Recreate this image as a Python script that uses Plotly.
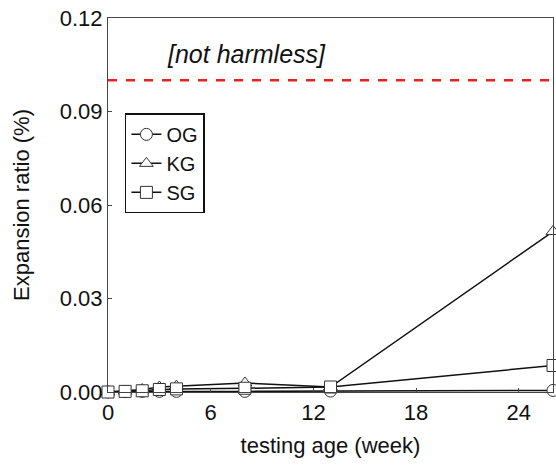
import plotly.graph_objects as go

weeks = [0, 1, 2, 3, 4, 8, 13, 26]
og = [0.0, 0.0001, 0.0002, 0.0002, 0.0002, 0.0002, 0.0003, 0.0005]
kg = [0.0, 0.0003, 0.0008, 0.0016, 0.0019, 0.0029, 0.0016, 0.0515]
sg = [0.0, 0.0002, 0.0004, 0.0008, 0.0010, 0.0012, 0.0016, 0.0085]
limit_x = [0, 26]
limit_y = [0.1, 0.1]
x_ticks = [0, 6, 12, 18, 24]
y_ticks = [0.0, 0.03, 0.06, 0.09, 0.12]

FONT = "Liberation Sans, Arial, sans-serif"
FS = 22

fig = go.Figure()
fig.add_trace(go.Scatter(x=limit_x, y=limit_y, mode="lines",
                         line=dict(color="#e8201e", width=2.5, dash="dash"),
                         showlegend=False, hoverinfo="skip"))
series = [("OG", og, "circle"), ("KG", kg, "triangle-up"), ("SG", sg, "square")]
for i, (name, vals, sym) in enumerate(series):
    fig.add_trace(go.Scatter(
        x=weeks, y=vals, mode="lines+markers", name=name,
        legendgroup=name,
        line=dict(color="#111111", width=1.5),
        marker=dict(symbol=sym, size=12, color="white",
                    line=dict(color="#333333", width=1)),
        cliponaxis=False))

fig.add_annotation(x=0.128, y=0.905, xref="paper", yref="paper",
                   text="<i>[not harmless]</i>", showarrow=False,
                   xanchor="left", yanchor="middle",
                   font=dict(family=FONT, size=25, color="#111111"))

axis_common = dict(showgrid=False, zeroline=False, showline=True,
                   linecolor="#444444", linewidth=1.2, mirror=True,
                   ticks="inside", ticklen=4, tickcolor="#444444",
                   tickfont=dict(family=FONT, size=FS, color="#111111"))

fig.update_xaxes(range=[0, 26], tickvals=x_ticks,
                 title=dict(text="testing age (week)", standoff=14,
                            font=dict(family=FONT, size=FS, color="#111111")),
                 **axis_common)
fig.update_yaxes(range=[0, 0.12], tickvals=y_ticks, tickformat=".2f",
                 title=dict(text="Expansion ratio (%)", standoff=23,
                            font=dict(family=FONT, size=FS, color="#111111")),
                 **axis_common)

fig.update_layout(
    width=556, height=467,
    margin=dict(l=108, r=3, t=18, b=75),
    paper_bgcolor="white", plot_bgcolor="white",
    font=dict(family=FONT, size=FS, color="#111111"),
    legend=dict(x=0.038, y=0.745, xanchor="left", yanchor="top",
                bordercolor="#111111", borderwidth=1.5, bgcolor="white",
                font=dict(family=FONT, size=20), tracegroupgap=0,
                itemwidth=30),
)

fig.write_html("out.html", config={"displayModeBar": False},
               post_script="document.body.style.margin='0';document.body.style.overflow='hidden';")
